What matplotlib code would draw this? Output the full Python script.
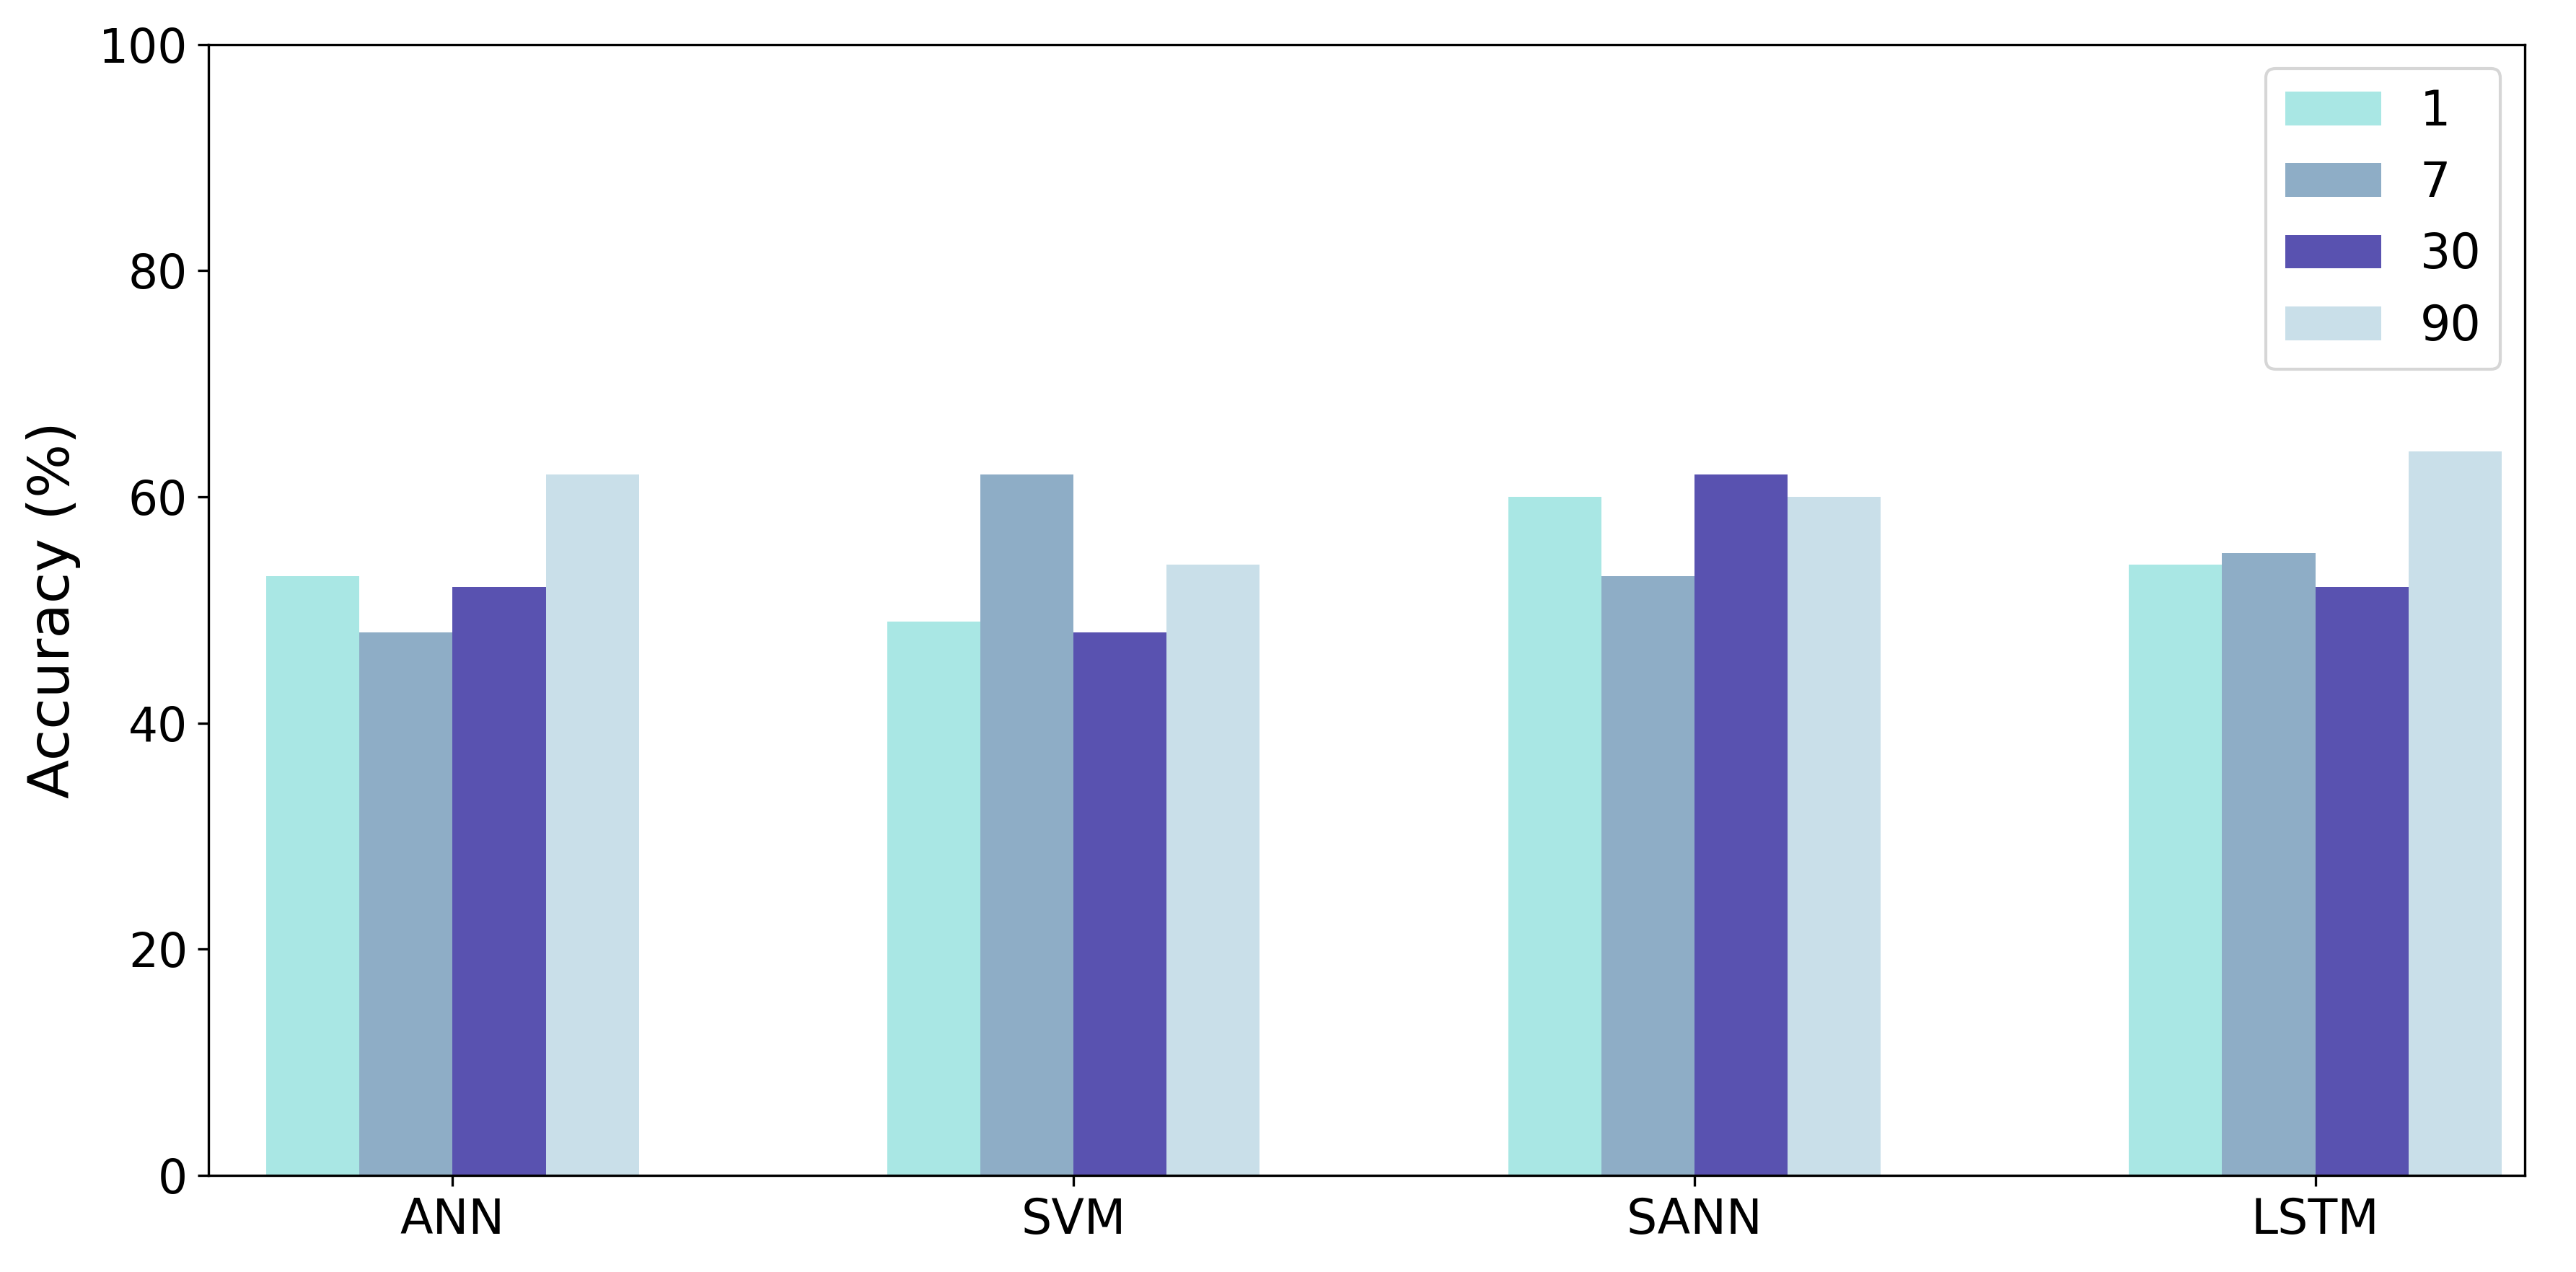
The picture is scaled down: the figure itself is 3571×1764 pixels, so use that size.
import numpy as np
import matplotlib
matplotlib.use("Agg")
import matplotlib.pyplot as plt

models = ["ANN", "SVM", "SANN", "LSTM"]
horizons = ["1", "7", "30", "90"]

acc_1 = [53, 49, 60, 54]
acc_7 = [48, 62, 53, 55]
acc_30 = [52, 48, 62, 52]
acc_90 = [62, 54, 60, 64]

colors = ["#a9e7e4", "#8eadc6", "#5952b0", "#c9dfe9"]

fig = plt.figure(figsize=(3571 / 300, 1764 / 300), dpi=300)
ax = fig.add_axes([0.081, 0.076, 0.899, 0.889])

x = np.arange(len(models))
width = 0.15
series = [acc_1, acc_7, acc_30, acc_90]
for i, vals in enumerate(series):
    ax.bar(x + (i - 1.5) * width, vals, width, color=colors[i], label=horizons[i])

ax.set_xticks(x)
ax.set_xticklabels(models, fontsize=16)
ax.tick_params(axis="y", labelsize=15.5)
ax.set_ylim(0, 100)
ax.set_xlim(-0.393, 3.337)
ax.set_ylabel("Accuracy (%)", fontsize=19, labelpad=6)

ax.legend(loc="upper right", fontsize=16)

fig.savefig("out.png", dpi=300)
